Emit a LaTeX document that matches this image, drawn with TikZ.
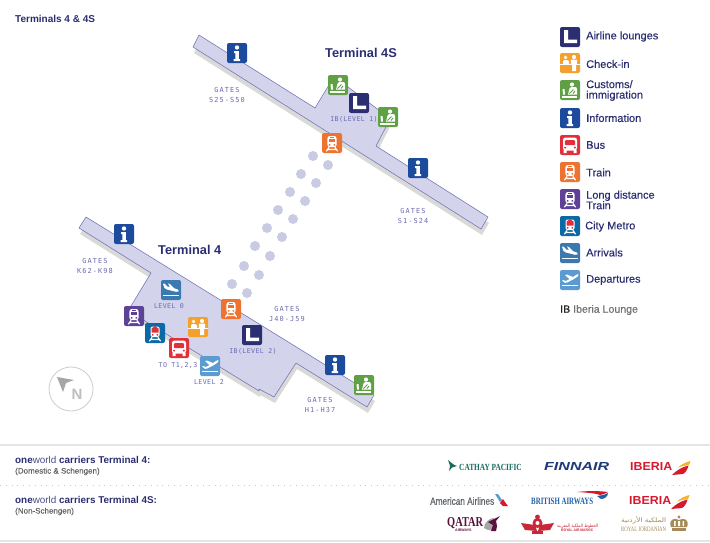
\documentclass[tikz,border=0pt]{standalone}
\usepackage{fontspec}
\usepackage{graphicx}
\setmainfont{Liberation Sans}
\newfontfamily\medfont[FakeBold=0.3]{Liberation Sans}
\newfontfamily\subfont[FakeBold=0.2]{Liberation Sans}
\newfontfamily\pixfont[LetterSpace=6]{DejaVu Sans Mono}
\newfontfamily\pixwidefont[LetterSpace=16]{DejaVu Sans Mono}
\newfontfamily\serfont{Liberation Serif}
\newfontfamily\arabicfont[Script=Arabic]{DejaVu Sans}
\TeXXeTstate=1
\definecolor{navy}{HTML}{27306F}
\definecolor{lnavy}{HTML}{2B2F72}
\definecolor{infob}{HTML}{1C4A9C}
\definecolor{greenc}{HTML}{5FA044}
\definecolor{yelc}{HTML}{F5A02C}
\definecolor{orac}{HTML}{EE7330}
\definecolor{purc}{HTML}{5D4298}
\definecolor{metc}{HTML}{0B6AA5}
\definecolor{busc}{HTML}{E0303A}
\definecolor{arrc}{HTML}{3A7AB0}
\definecolor{depc}{HTML}{5C9BD0}
\definecolor{bldg}{HTML}{D3D4EC}
\definecolor{bedge}{HTML}{7072B5}
\definecolor{shad}{HTML}{D9DAD7}
\definecolor{dotc}{HTML}{C9CAE4}
\definecolor{pixc}{HTML}{6A69B2}
\definecolor{ibred}{HTML}{D7192D}
\definecolor{ibyel}{HTML}{F5B32A}
\definecolor{cathay}{HTML}{1B6B62}
\definecolor{finn}{HTML}{1F3A78}
\definecolor{aagray}{HTML}{5F6468}
\definecolor{babl}{HTML}{1F5FA8}
\definecolor{qatc}{HTML}{5C0F3E}
\definecolor{ramc}{HTML}{C8283A}
\definecolor{rjc}{HTML}{A68A58}
\newcommand{\trainshape}[1]{%
    \fill[white,rounded corners=2.5pt] (-4.6,-7) rectangle (4.6,4.2);
    \fill[#1] (-3.2,-3.8) rectangle (3.2,-.6);
    \fill[#1] (-1.6,-5.9) rectangle (1.6,-5);
    \fill[#1] (-3.2,1) rectangle (-1.6,2.6) (1.6,1) rectangle (3.2,2.6);
    \draw[white,line width=1.2pt,line cap=round] (-3,4.5) -- (-5.5,8) (3,4.5) -- (5.5,8) (-4,6.5) -- (4,6.5);}
\tikzset{
  x=1pt,y=-1pt,
  base/.style={fill=#1,rounded corners=2pt},
  bldgshape/.style={fill=bldg,draw=bedge,line width=.55pt,line join=round},
  shadshape/.style={fill=shad,draw=none},
  stopdot/.style={circle,fill=dotc,draw=none,minimum size=10pt,inner sep=0pt},
  pixlabel/.style={font=\pixfont\fontsize{6.6}{10}\selectfont,text=pixc,align=center,inner sep=0pt},
  gatelabel/.style={font=\pixwidefont\fontsize{6.9}{10}\selectfont,text=pixc,align=center,inner sep=0pt},
  termtitle/.style={font=\bfseries\fontsize{12.8}{15}\selectfont,text=lnavy,inner sep=0pt,anchor=west},
  legendlabel/.style={font=\medfont\fontsize{11}{10.5}\selectfont,text=lnavy,inner sep=0pt,anchor=west,align=left},
  carrierlabel/.style={font=\bfseries\fontsize{9.9}{11}\selectfont,text=lnavy,inner sep=0pt,anchor=west},
  carriersub/.style={font=\subfont\fontsize{8}{9}\selectfont,text=black!62,inner sep=0pt,anchor=west},
  iconL/.pic={
    \path[base=lnavy] (-10,-10) rectangle (10,10);
    \fill[white] (-6,-7) -- (-2,-7) -- (-2,2.5) -- (7,2.5) -- (7,6.2) -- (-6,6.2) -- cycle;},
  iconI/.pic={
    \path[base=infob] (-10,-10) rectangle (10,10);
    \fill[white] (0,-5.5) circle (2.2);
    \fill[white] (-3,-2) -- (1.8,-2) -- (1.8,6) -- (3.2,6) -- (3.2,8) -- (-3.4,8) -- (-3.4,6) -- (-1.6,6) -- (-1.6,0) -- (-3,0) -- cycle;},
  iconTrain/.pic={
    \path[base=orac] (-10,-10) rectangle (10,10);
    \trainshape{orac};},
  iconLong/.pic={
    \path[base=purc] (-10,-10) rectangle (10,10);
    \trainshape{purc};},
  iconMetro/.pic={
    \path[base=metc] (-10,-10) rectangle (10,10);
    \fill[white,rounded corners=2pt] (-4.5,-6.5) rectangle (4.5,4);
    \fill[busc] (-3.5,-4.5) -- (0,-7) -- (3.5,-4.5) -- (3.5,-.5) -- (-3.5,-.5) -- cycle;
    \fill[busc] (-3.2,1) rectangle (-1.6,2.6) (1.6,1) rectangle (3.2,2.6);
    \draw[white,line width=1.2pt,line cap=round] (-3,4.5) -- (-5.5,8) (3,4.5) -- (5.5,8) (-4,6.5) -- (4,6.5);},
  iconBus/.pic={
    \path[base=busc] (-10,-10) rectangle (10,10);
    \fill[white,rounded corners=2.5pt] (-7,-7.5) rectangle (7,5.5);
    \fill[busc,rounded corners=1pt] (-5.2,-4.8) rectangle (5.2,.2);
    \fill[busc] (-4.8,2.6) circle (1.1) (4.8,2.6) circle (1.1);
    \fill[white] (-6.5,5) rectangle (-3.5,8) (3.5,5) rectangle (6.5,8);},
  iconCheck/.pic={
    \path[base=yelc] (-10,-10) rectangle (10,10);
    \fill[white] (-4.5,-5.5) circle (1.9) (4,-6) circle (2.1);
    \fill[white] (-7,1) -- (-7,-2) -- (-5.5,-3) -- (-3,-3) -- (-1,-2) -- (-1,1) -- cycle;
    \fill[white] (.8,-3.5) -- (7.2,-3.5) -- (7.2,1) -- (6,1) -- (6,8) -- (2.2,8) -- (2.2,1) -- (.8,1) -- cycle;
    \fill[white] (-10,1) rectangle (10,2.3);},
  iconCustoms/.pic={
    \path[base=greenc] (-10,-10) rectangle (10,10);
    \fill[white] (2,-5.5) circle (2.1);
    \fill[white] (-2,4.5) -- (-.5,-1.5) -- (1,-3) -- (6,-3) -- (7,-1) -- (7,4.5) -- cycle;
    \draw[greenc,line width=.9pt] (-.5,3.5) -- (3.5,-.5) (3,3.5) -- (5,1);
    \fill[white] (-8,6) rectangle (7,7.5);
    \fill[white] (-7.5,-1) -- (-5.5,-1) -- (-5,4.5) -- (-7,4.5) -- cycle;},
  iconArr/.pic={
    \path[base=arrc] (-10,-10) rectangle (10,10);
    \fill[white] (-8,-6.2) -- (-6.5,-6.5) -- (-3.5,-3.5) -- (-1,-3) -- (-3,-6.5) -- (-1,-6) -- (3,-1.8) -- (6.5,-.6) -- (8,1.2) -- (5,1.8) -- (-4,-.5) -- (-6.5,-2) -- cycle;
    \fill[white] (-8,5) rectangle (8,6.2);},
  iconDep/.pic={
    \path[base=depc] (-10,-10) rectangle (10,10);
    \fill[white] (-8,.6) -- (-6.5,.2) -- (-4,.9) -- (-.5,-.9) -- (-5,-5) -- (-3,-5.4) -- (3,-3) -- (6,-5) -- (8.4,-6) -- (8,-3.8) -- (4,-1) -- (-3,2.6) -- (-5,2.8) -- cycle;
    \fill[white] (-8,5) rectangle (8,6.2);},
  ibtail/.pic={
    \fill[ibred] (0,14) .. controls (5,9) and (10,6) .. (16.5,4.5) .. controls (15.5,9) and (13,12) .. (11,13) -- cycle;
    \fill[ibyel] (6,6.5) .. controls (9,3.5) and (14,1) .. (18.5,0) .. controls (18,1.5) and (17.5,3) .. (17,4) .. controls (13,4.5) and (9,5.5) .. (6,6.5) -- cycle;},
}
\begin{document}
\begin{tikzpicture}
\useasboundingbox (0,0) rectangle (710,542);
\fill[white] (0,0) rectangle (710,542);

% building shadows
\fill[shadshape,shift={(1,6)}] (199,35) -- (315,108) -- (329,85) -- (348,87) -- (388,117) -- (388,123) -- (376,146) -- (488,217) -- (481,229) -- (193,47) -- cycle;
\fill[shadshape,shift={(1,6)}] (86,217) -- (374,395) -- (367,407) -- (296,363) -- (274,397) -- (259,389) -- (259,391) -- (145,321) -- (131,306) -- (151,273) -- (79,228) -- cycle;
% buildings
\path[bldgshape] (199,35) -- (315,108) -- (329,85) -- (348,87) -- (388,117) -- (388,123) -- (376,146) -- (488,217) -- (481,229) -- (193,47) -- cycle;
\path[bldgshape] (86,217) -- (374,395) -- (367,407) -- (296,363) -- (274,397) -- (259,389) -- (259,391) -- (145,321) -- (131,306) -- (151,273) -- (79,228) -- cycle;

% walkway dots
\foreach \n/\px/\py in {a/313/156,b/328/165,c/301/174,d/316/183,e/290/192,f/305/201,g/278/210,h/293/219,i/267/228,j/282/237,k/255/246,l/270/256,m/244/266,n/259/275,o/232/284,p/247/293}
  \node[stopdot] (dot\n) at (\px,\py) {};

% titles
\node[font=\bfseries\fontsize{10}{12}\selectfont,text=lnavy,inner sep=0pt,anchor=west] (pagetitle) at (15,19) {Terminals 4 \& 4S};
\node[termtitle] (t4s) at (325,53) {Terminal 4S};
\node[termtitle] (t4) at (158,250) {Terminal 4};

% map icons
\pic at (237,53) {iconI};
\pic at (338,85) {iconCustoms};
\pic at (359,103) {iconL};
\pic at (388,117) {iconCustoms};
\pic at (332,143) {iconTrain};
\pic at (418,168) {iconI};
\pic at (124,234) {iconI};
\pic at (171,290) {iconArr};
\pic at (231,309) {iconTrain};
\pic at (198,327) {iconCheck};
\pic at (252,335) {iconL};
\pic at (134,316) {iconLong};
\pic at (155,333) {iconMetro};
\pic at (179,348) {iconBus};
\pic at (210,366) {iconDep};
\pic at (335,365) {iconI};
\pic at (364,385) {iconCustoms};

% pixel labels
\node[gatelabel] (g1) at (227,95) {GATES\\S25-S50};
\node[gatelabel] (g2) at (413,216) {GATES\\S1-S24};
\node[gatelabel] (g3) at (95,266) {GATES\\K62-K98};
\node[gatelabel] (g4) at (287,314) {GATES\\J40-J59};
\node[gatelabel] (g5) at (320,405) {GATES\\H1-H37};
\node[pixlabel] (l1) at (354,119) {IB(LEVEL 1)};
\node[pixlabel] (l2) at (253,351) {IB(LEVEL 2)};
\node[pixlabel] (l3) at (169,306) {LEVEL 0};
\node[pixlabel] (l4) at (209,382) {LEVEL 2};
\node[pixlabel] (l5) at (178,366) {TO T1,2,3};

% compass
\draw[draw=black!20,line width=.8pt,fill=white] (71,389) circle (22);
\fill[black!35] (57,377) -- (74,380) -- (66,383) -- (63,392) -- cycle;
\node[font=\bfseries\fontsize{15}{15}\selectfont,text=black!25,inner sep=0pt] (north) at (77,394) {N};

% legend
\pic at (570,37) {iconL};
\pic at (570,63) {iconCheck};
\pic at (570,90) {iconCustoms};
\pic at (570,118) {iconI};
\pic at (570,145) {iconBus};
\pic at (570,172) {iconTrain};
\pic at (570,199) {iconLong};
\pic at (570,226) {iconMetro};
\pic at (570,253) {iconArr};
\pic at (570,280) {iconDep};
\node[legendlabel] (la) at (586,36.5) {Airline lounges};
\node[legendlabel] (lb) at (586,64) {Check-in};
\node[legendlabel] (lc) at (586,90.5) {Customs/\\immigration};
\node[legendlabel] (ld) at (586,118) {Information};
\node[legendlabel] (le) at (586,145) {Bus};
\node[legendlabel] (lf) at (586,172.5) {Train};
\node[legendlabel] (lg) at (586,200) {Long distance\\Train};
\node[legendlabel] (lh) at (585,226.5) {City Metro};
\node[legendlabel] (li) at (586,252.5) {Arrivals};
\node[legendlabel] (lj) at (586,280) {Departures};
\node[inner sep=0pt,anchor=west,font=\medfont\fontsize{10.6}{12}\selectfont,text=black!55] (lk) at (560,310) {\textcolor{black!85}{IB} Iberia Lounge};

% bottom band
\draw[black!10,line width=1.6pt] (0,445) -- (710,445);
\draw[black!22,line width=.7pt,dash pattern=on .8pt off 5pt] (0,485) -- (710,485);
\draw[black!10,line width=1.6pt] (0,541) -- (710,541);
\node[carrierlabel] (c1) at (15,460) {one\textcolor{lnavy!85}{\mdseries world} carriers Terminal 4:};
\node[carriersub] (c2) at (15,471.5) {(Domestic \& Schengen)};
\node[carrierlabel] (c3) at (15,500) {one\textcolor{lnavy!85}{\mdseries world} carriers Terminal 4S:};
\node[carriersub] (c4) at (15,511.5) {(Non-Schengen)};

% Cathay Pacific
\fill[cathay] (448,460) .. controls (451,462) and (453,465) .. (457,466) -- (452,467.5) -- (449,471) -- (450,466) -- cycle;
\node[anchor=west,inner sep=0pt] (cathaylogo) at (459,467) {\resizebox{62.5pt}{6.2pt}{\serfont\color{cathay}\textbf{CATHAY PACIFIC}}};
% Finnair
\node[anchor=west,inner sep=0pt] (finnlogo) at (544,466) {\resizebox{65pt}{8pt}{\bfseries\itshape\color{finn}FINNAIR}};
% Iberia 1
\node[anchor=west,inner sep=0pt] (ib1) at (630,466.5) {\resizebox{42pt}{8pt}{\bfseries\color{ibred}IBERIA}};
\pic at (672,461) {ibtail};
% American
\node[anchor=west,inner sep=0pt] (aa) at (430,501) {\resizebox{64pt}{7.6pt}{\subfont\color{aagray}American Airlines}};
\fill[depc] (495,494) -- (498,494) -- (502,500) -- (500,502) -- cycle;
\fill[ibred] (500,503) -- (503,499) -- (505,502) -- (508,506) -- (503,506) -- cycle;
% British Airways
\node[anchor=west,inner sep=0pt] (ba) at (531,501.5) {\resizebox{62pt}{6.4pt}{\serfont\bfseries\color{babl}BRITISH AIRWAYS}};
\fill[ibred] (577,492) .. controls (590,490.5) and (600,491) .. (608,492) .. controls (606,493.5) and (604,494) .. (600,495) .. controls (595,493) and (585,492.5) .. (577,492) -- cycle;
\fill[babl] (597,496) .. controls (600,495.5) and (605,495) .. (608,493) .. controls (608,496) and (605,499) .. (601,499) -- cycle;
% Iberia 2
\node[anchor=west,inner sep=0pt] (ib2) at (629,500) {\resizebox{42pt}{8pt}{\bfseries\color{ibred}IBERIA}};
\pic at (671,495) {ibtail};
% Qatar
\node[anchor=west,inner sep=0pt] (qa) at (447,523) {\resizebox{36pt}{9pt}{\serfont\bfseries\color{qatc}QATAR}};
\node[anchor=west,inner sep=0pt,font=\bfseries\fontsize{3.6}{4}\selectfont,text=qatc] (qb) at (455,530) {AIRWAYS};
\fill[black!35] (484,528) .. controls (484,522) and (490,518) .. (494,518) -- (494,530) -- (488,530) -- cycle;
\fill[qatc] (488,522) -- (500,516) -- (496,521) -- (497,526) -- (496,531) -- (491,531) -- (493,525) -- cycle;
% Royal Air Maroc
\fill[ramc] (521,523) -- (535,525) -- (537,531) -- (525,530) -- cycle;
\fill[ramc] (554,523) -- (540,525) -- (538,531) -- (550,530) -- cycle;
\fill[ramc] (537.5,523) circle (5);
\fill[ramc] (537.5,517) circle (2.4);
\fill[white] (537.5,523) circle (2);
\fill[ramc] (532,531) rectangle (543,534);
\node[anchor=west,inner sep=0pt] (rama) at (557,526) {\resizebox{41pt}{3.5pt}{\arabicfont\color{ramc}\beginR الخطوط الملكية المغربية\endR}};
\node[anchor=west,inner sep=0pt] (ramb) at (561,530.5) {\resizebox{32pt}{2.5pt}{\bfseries\color{ramc}ROYAL AIR MAROC}};
% Royal Jordanian
\node[anchor=west,inner sep=0pt] (rja) at (621,520) {\resizebox{45pt}{6pt}{\arabicfont\color{rjc}\beginR الملكية الأردنية\endR}};
\node[anchor=west,inner sep=0pt] (rjb) at (621,529.5) {\resizebox{45pt}{4.5pt}{\serfont\color{rjc}ROYAL JORDANIAN}};
\fill[rjc] (671,527) .. controls (668,520) and (674,517) .. (679,520) .. controls (684,517) and (690,520) .. (687,527) -- cycle;
\fill[white] (674,526) rectangle (675.5,521) (678,526) rectangle (680,521) (682.5,526) rectangle (684,521);
\fill[rjc] (672,528) rectangle (686,531);
\fill[rjc] (679,517) circle (1.6);
\end{tikzpicture}
\end{document}
